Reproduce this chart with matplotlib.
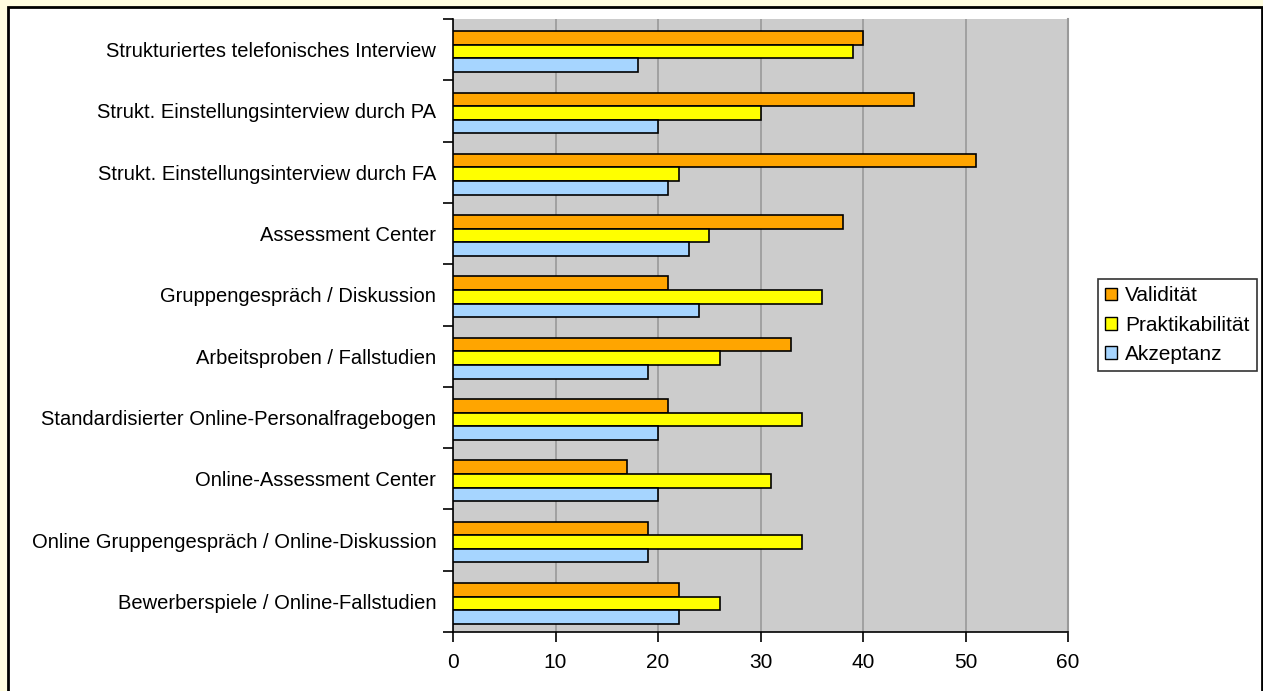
import matplotlib.pyplot as plt
import numpy as np
from matplotlib.patches import Rectangle, Patch

plt.rcParams['font.family'] = ['Liberation Sans', 'DejaVu Sans']

methoden = [
    "Strukturiertes telefonisches Interview",
    "Strukt. Einstellungsinterview durch PA",
    "Strukt. Einstellungsinterview durch FA",
    "Assessment Center",
    "Gruppengespräch / Diskussion",
    "Arbeitsproben / Fallstudien",
    "Standardisierter Online-Personalfragebogen",
    "Online-Assessment Center",
    "Online Gruppengespräch / Online-Diskussion",
    "Bewerberspiele / Online-Fallstudien",
]
validitaet = [40, 45, 51, 38, 21, 33, 21, 17, 19, 22]
praktikabilitaet = [39, 30, 22, 25, 36, 26, 34, 31, 34, 26]
akzeptanz = [18, 20, 21, 23, 24, 19, 20, 20, 19, 22]

serien = ["Validität", "Praktikabilität", "Akzeptanz"]
farben = ["#FFA500", "#FFFF00", "#A6D5FF"]

fig = plt.figure(figsize=(12.63, 6.91), dpi=100, facecolor="#FFFDE0")
# weisser Rahmen mit schwarzer Linie
rahmen = Rectangle((8 / 1263, -0.01), 1254 / 1263, 684 / 691 + 0.01,
                   transform=fig.transFigure, facecolor="white",
                   edgecolor="black", linewidth=2, zorder=-10)
fig.patches.append(rahmen)

ax = fig.add_axes([453 / 1263, 1 - 632 / 691, 615 / 1263, 613 / 691])
ax.set_facecolor("#CCCCCC")

n = len(methoden)
pos = np.arange(n)
h = 0.222
versatz = 0.033
for i, (werte, farbe) in enumerate(zip([validitaet, praktikabilitaet, akzeptanz], farben)):
    ax.barh(pos + (i - 1) * h + versatz, werte, height=h, color=farbe,
            edgecolor="black", linewidth=1.2, zorder=3)

ax.set_xlim(0, 60)
ax.set_ylim(n - 0.5, -0.5)
ax.set_xticks(range(0, 61, 10))
ax.xaxis.grid(True, color="#999999", linewidth=1.2, zorder=1)

# Kategoriebeschriftungen mittig, Striche zwischen den Kategorien
ax.set_yticks(pos)
ax.set_yticklabels(methoden)
ax.tick_params(axis="y", which="major", length=0, pad=12, labelsize=14.5)
ax.set_yticks(np.arange(-0.5, n, 1), minor=True)
ax.tick_params(axis="y", which="minor", length=7, width=1.2, direction="out")
ax.tick_params(axis="x", length=7, width=1.2, direction="out", labelsize=15, pad=8)

ax.spines["top"].set_visible(False)
ax.spines["right"].set_color("#999999")
ax.spines["right"].set_linewidth(1.5)
ax.spines["left"].set_linewidth(1.2)
ax.spines["bottom"].set_linewidth(1.2)

handles = [Patch(facecolor=f, edgecolor="black", label=s) for s, f in zip(serien, farben)]
leg = fig.legend(handles=handles, loc="upper left", bbox_to_anchor=(1098 / 1263, 1 - 279 / 691),
                 fontsize=15, frameon=True, fancybox=False, edgecolor="black",
                 handlelength=0.55, handleheight=0.55, handletextpad=0.4,
                 borderpad=0.35, labelspacing=0.5, borderaxespad=0)
leg.get_frame().set_linewidth(1.2)

fig.savefig("out.png", dpi=100, facecolor=fig.get_facecolor())
